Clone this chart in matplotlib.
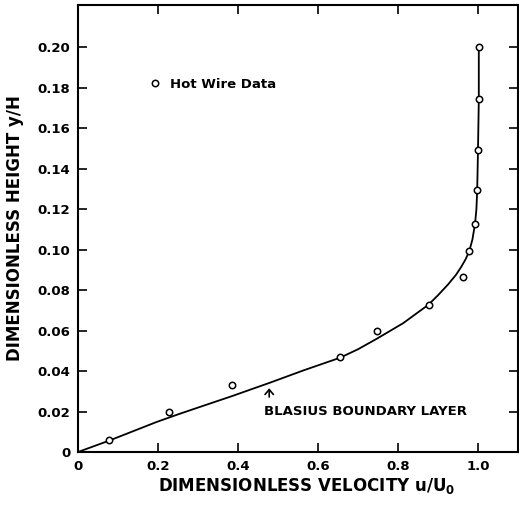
import numpy as np
import matplotlib
matplotlib.use("Agg")
import matplotlib.pyplot as plt

plt.rcParams['font.family'] = ['DejaVu Sans']
plt.rcParams['font.weight'] = 'bold'
plt.rcParams['mathtext.fontset'] = 'dejavusans'

#Hot wire measurements (u/U0, y/H)
u_data = [0.078, 0.227, 0.386, 0.655, 0.748, 0.877, 0.963, 0.978, 0.9925, 0.998, 1.0, 1.003, 1.002]
y_data = [0.0059, 0.020, 0.033, 0.0469, 0.0599, 0.0728, 0.0863, 0.0992, 0.1127, 0.1294, 0.1495, 0.1743, 0.2003]

#Blasius boundary layer curve
u_blasius = [0, 0.0775, 0.196, 0.25, 0.317, 0.383, 0.479, 0.563, 0.655, 0.70, 0.747, 0.813, 0.876,
             0.90, 0.925, 0.945, 0.958, 0.969, 0.978, 0.986, 0.9925, 0.996, 0.998, 1.0, 1.002, 1.002]
y_blasius = [0, 0.0056, 0.0148, 0.0186, 0.0231, 0.0275, 0.0342, 0.0403, 0.0466, 0.0508, 0.0560, 0.0637, 0.0728,
             0.0775, 0.0828, 0.0876, 0.0915, 0.0953, 0.0992, 0.105, 0.1127, 0.12, 0.1294, 0.1495, 0.174, 0.200]

xticks = [0, 0.2, 0.4, 0.6, 0.8, 1.0]
xticklabels = ['0', '0.2', '0.4', '0.6', '0.8', '1.0']
yticks = [0, 0.02, 0.04, 0.06, 0.08, 0.10, 0.12, 0.14, 0.16, 0.18, 0.20]
yticklabels = ['0', '0.02', '0.04', '0.06', '0.08', '0.10', '0.12', '0.14', '0.16', '0.18', '0.20']

fig = plt.figure(figsize=(5.19, 5.05), dpi=100)
ax = fig.add_axes([78/519, 53/505, 440/519, 447/505])

ax.plot(u_blasius, y_blasius, color='black', lw=1.3, zorder=2)
ax.plot(u_data, y_data, 'o', ms=4.6, mfc='white', mec='black', mew=1.1, zorder=3,
        label='Hot Wire Data')

ax.set_xlim(0, 1.1)
ax.set_ylim(0, 0.221)
ax.set_xticks(xticks)
ax.set_xticklabels(xticklabels)
ax.set_yticks(yticks)
ax.set_yticklabels(yticklabels)
ax.tick_params(direction='in', length=6.5, width=1.2, top=True, right=True,
               labelsize=9.5, pad=5.5)
for s in ax.spines.values():
    s.set_linewidth(1.5)

ax.set_xlabel(r'DIMENSIONLESS VELOCITY u/U$_\mathbf{0}$', fontsize=12, fontweight='bold')
ax.xaxis.set_label_coords(0.52, -0.075)
ax.xaxis.label.set_va('center')
ax.set_ylabel('DIMENSIONLESS HEIGHT y/H', fontsize=12, fontweight='bold')
ax.yaxis.set_label_coords(-0.143, 0.501)
ax.yaxis.label.set_va('center')

leg = ax.legend(loc='center left', bbox_to_anchor=(0.16, 0.8226), frameon=False,
                handlelength=1.0, handletextpad=0.6, borderpad=0, borderaxespad=0,
                numpoints=1, prop={'size': 9.5, 'weight': 'bold'})

#arrow pointing at the curve
ax.annotate('', xy=(0.478, 0.0315), xytext=(0.478, 0.0272),
            arrowprops=dict(arrowstyle='->, head_width=0.3, head_length=0.35', lw=1.2,
                            color='black', shrinkA=0, shrinkB=0))
ax.text(0.466, 0.020, 'BLASIUS BOUNDARY LAYER', fontsize=9.5, fontweight='bold',
        ha='left', va='center')

fig.savefig('out.png', dpi=100)
